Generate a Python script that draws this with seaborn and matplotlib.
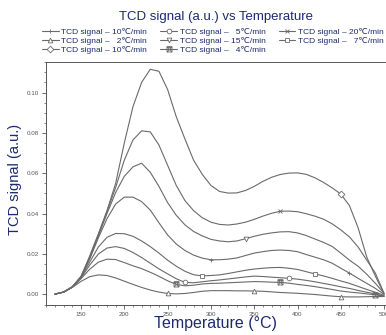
import numpy as np
import pandas as pd
import matplotlib
matplotlib.use("Agg")
import matplotlib.pyplot as plt
import seaborn as sns
from matplotlib.ticker import MultipleLocator
from matplotlib.path import Path

# ---------------- data ----------------
temps = [120, 130, 140, 150, 160, 170, 180, 190, 200, 210, 220, 230, 240,
         250, 260, 270, 280, 290, 300, 310, 320, 330, 340, 350, 360, 370,
         380, 390, 400, 410, 420, 430, 440, 450, 460, 470, 480, 490, 500]

sig_10b = [0.0002, 0.0012, 0.0038, 0.0088, 0.0190, 0.0300, 0.0415, 0.0550, 0.0750, 0.0930, 0.1050, 0.1115, 0.1105,
           0.1015, 0.0880, 0.0770, 0.0665, 0.0595, 0.0540, 0.0510, 0.0502, 0.0503, 0.0515, 0.0535, 0.0560, 0.0580,
           0.0594, 0.0601, 0.0602, 0.0595, 0.0578, 0.0555, 0.0528, 0.0497, 0.0440, 0.0330, 0.0185, 0.0090, 0.0003]
sig_20 = [0.0002, 0.0012, 0.0038, 0.0088, 0.0185, 0.0295, 0.0410, 0.0530, 0.0665, 0.0765, 0.0810, 0.0805, 0.0740,
          0.0640, 0.0540, 0.0465, 0.0415, 0.0380, 0.0358, 0.0347, 0.0344, 0.0349, 0.0358, 0.0372, 0.0388, 0.0402,
          0.0412, 0.0413, 0.0410, 0.0400, 0.0388, 0.0373, 0.0350, 0.0320, 0.0285, 0.0235, 0.0170, 0.0105, 0.0005]
sig_15 = [0.0002, 0.0012, 0.0038, 0.0088, 0.0180, 0.0290, 0.0400, 0.0505, 0.0585, 0.0632, 0.0650, 0.0605, 0.0535,
          0.0455, 0.0392, 0.0345, 0.0312, 0.0290, 0.0273, 0.0265, 0.0261, 0.0265, 0.0276, 0.0288, 0.0298, 0.0305,
          0.0310, 0.0311, 0.0305, 0.0292, 0.0275, 0.0258, 0.0238, 0.0205, 0.0170, 0.0140, 0.0100, 0.0055, 0.0005]
sig_10a = [0.0002, 0.0012, 0.0038, 0.0088, 0.0175, 0.0280, 0.0375, 0.0448, 0.0482, 0.0482, 0.0460, 0.0418, 0.0355,
           0.0295, 0.0250, 0.0218, 0.0195, 0.0180, 0.0172, 0.0172, 0.0175, 0.0181, 0.0193, 0.0205, 0.0212, 0.0218,
           0.0220, 0.0218, 0.0212, 0.0198, 0.0185, 0.0172, 0.0155, 0.0130, 0.0106, 0.0080, 0.0055, 0.0030, 0.0000]
sig_7 = [0.0002, 0.0012, 0.0038, 0.0085, 0.0160, 0.0235, 0.0283, 0.0302, 0.0301, 0.0288, 0.0265, 0.0237, 0.0205,
         0.0170, 0.0140, 0.0115, 0.0098, 0.0092, 0.0094, 0.0097, 0.0104, 0.0112, 0.0120, 0.0126, 0.0130, 0.0133,
         0.0134, 0.0130, 0.0124, 0.0113, 0.0102, 0.0092, 0.0080, 0.0067, 0.0055, 0.0040, 0.0025, 0.0011, -0.0005]
sig_5 = [0.0002, 0.0012, 0.0037, 0.0082, 0.0145, 0.0200, 0.0230, 0.0237, 0.0228, 0.0208, 0.0183, 0.0155, 0.0127,
         0.0102, 0.0078, 0.0060, 0.0058, 0.0063, 0.0068, 0.0072, 0.0077, 0.0082, 0.0087, 0.0091, 0.0089, 0.0086,
         0.0083, 0.0080, 0.0076, 0.0070, 0.0063, 0.0055, 0.0047, 0.0038, 0.0030, 0.0020, 0.0011, 0.0003, -0.0008]
sig_4 = [0.0002, 0.0012, 0.0036, 0.0078, 0.0125, 0.0160, 0.0175, 0.0173, 0.0158, 0.0142, 0.0128, 0.0110, 0.0090,
         0.0068, 0.0050, 0.0043, 0.0046, 0.0052, 0.0055, 0.0056, 0.0058, 0.0060, 0.0062, 0.0064, 0.0063, 0.0061,
         0.0060, 0.0056, 0.0050, 0.0045, 0.0039, 0.0032, 0.0025, 0.0017, 0.0012, 0.0008, 0.0003, -0.0001, -0.0008]
sig_2 = [0.0002, 0.0012, 0.0035, 0.0065, 0.0088, 0.0097, 0.0094, 0.0082, 0.0066, 0.0050, 0.0035, 0.0022, 0.0012,
         0.0005, 0.0003, 0.0005, 0.0010, 0.0016, 0.0019, 0.0019, 0.0019, 0.0018, 0.0018, 0.0017, 0.0016, 0.0013,
         0.0010, 0.0008, 0.0006, 0.0003, 0.0000, -0.0004, -0.0008, -0.0011, -0.0012, -0.0012, -0.0011, -0.0010, -0.0010]

# legend labels (legend order, column-major)
labels = ["TCD signal – 10℃/min", "TCD signal –   2℃/min", "TCD signal – 10℃/min",
          "TCD signal –   5℃/min", "TCD signal – 15℃/min", "TCD signal –   4℃/min",
          "TCD signal – 20℃/min", "TCD signal –   7℃/min"]
series = [sig_10a, sig_2, sig_10b, sig_5, sig_15, sig_4, sig_20, sig_7]

# box with hourglass marker (unfilled path)
_box_x = Path([(-1, -1), (1, -1), (1, 1), (-1, 1), (-1, -1), (1, 1), (-1, 1), (1, -1)],
              [Path.MOVETO, Path.LINETO, Path.LINETO, Path.LINETO, Path.LINETO,
               Path.LINETO, Path.LINETO, Path.LINETO])
markers = ["+", "^", "D", "o", "v", _box_x, "x", "s"]
marker_temps = [[300, 460], [250, 350, 450], [450], [270, 390], [340], [260, 380, 490], [380], [290, 420]]

title = "TCD signal (a.u.) vs Temperature"
xlabel = "Temperature (°C)"
ylabel = "TCD signal (a.u.)"

# ---------------- style ----------------
sns.set_theme(style="ticks")
plt.rcParams["font.family"] = ["Liberation Sans", "DejaVu Sans"]
navy = "#1c2b6e"
line_col = "#6a6a6a"

W, H = 386, 335
fig = plt.figure(figsize=(W / 100, H / 100), dpi=100)
fig.patch.set_facecolor("white")
ax = fig.add_axes([46 / W, 1 - 305 / H, (388 - 46) / W, (305 - 62) / H])
ax.set_facecolor("white")

for lab, vals, mk, mt in zip(labels, series, markers, marker_temps):
    idx = [temps.index(t) for t in mt]
    is_path = isinstance(mk, Path)
    sns.lineplot(x=temps, y=vals, ax=ax, color=line_col, linewidth=0.8,
                 marker=mk, markevery=idx, markersize=3.4 if not is_path else 3.6,
                 markerfacecolor="none" if is_path else "white",
                 markeredgecolor=line_col, markeredgewidth=0.6, label=lab, legend=False)

px_per_unit = 43.3 / 50
xl = 150 - (81 - 46) / px_per_unit
xr = 150 + (388 - 81) / px_per_unit
ax.set_xlim(xl, xr)
ax.set_ylim(-0.0052, 0.1151)

ax.xaxis.set_minor_locator(MultipleLocator(10))
ax.yaxis.set_minor_locator(MultipleLocator(0.005))
ax.set_xticks([150, 200, 250, 300, 350, 400, 450, 500])
ax.set_yticks([0.0, 0.02, 0.04, 0.06, 0.08, 0.10])
ax.set_yticklabels(["0.00", "0.02", "0.04", "0.06", "0.08", "0.10"])
ax.tick_params(axis="both", which="major", direction="out", length=3, width=0.6,
               labelsize=4.5, labelcolor="#555555", color="#555555", pad=2)
ax.tick_params(axis="both", which="minor", direction="out", length=1.6, width=0.5, color="#555555")

for s in ["left", "bottom", "top"]:
    ax.spines[s].set_color("#555555")
    ax.spines[s].set_linewidth(0.7)
ax.spines["right"].set_visible(False)

ax.set_xlabel(xlabel, fontsize=11.5, color=navy)
ax.xaxis.set_label_coords((216 - 46) / (388 - 46), -(316 - 305) / (305 - 62))
ax.set_ylabel(ylabel, fontsize=10.5, color=navy)
ax.yaxis.set_label_coords(-(46 - 22) / (388 - 46), (305 - 179) / (305 - 62))

fig.text(216 / W, 1 - 17 / H, title, ha="center", va="center", fontsize=9.5, color=navy)

handles, _ = ax.get_legend_handles_labels()
fig.legend(handles, labels, ncol=3, loc="upper left", bbox_to_anchor=(42 / W, 1 - 28 / H),
           frameon=False, fontsize=6, labelcolor=navy, handlelength=2.0, handletextpad=0.3,
           columnspacing=1.6, labelspacing=0.1, borderaxespad=0, borderpad=0)

fig.savefig("out.png", dpi=100, facecolor="white")
